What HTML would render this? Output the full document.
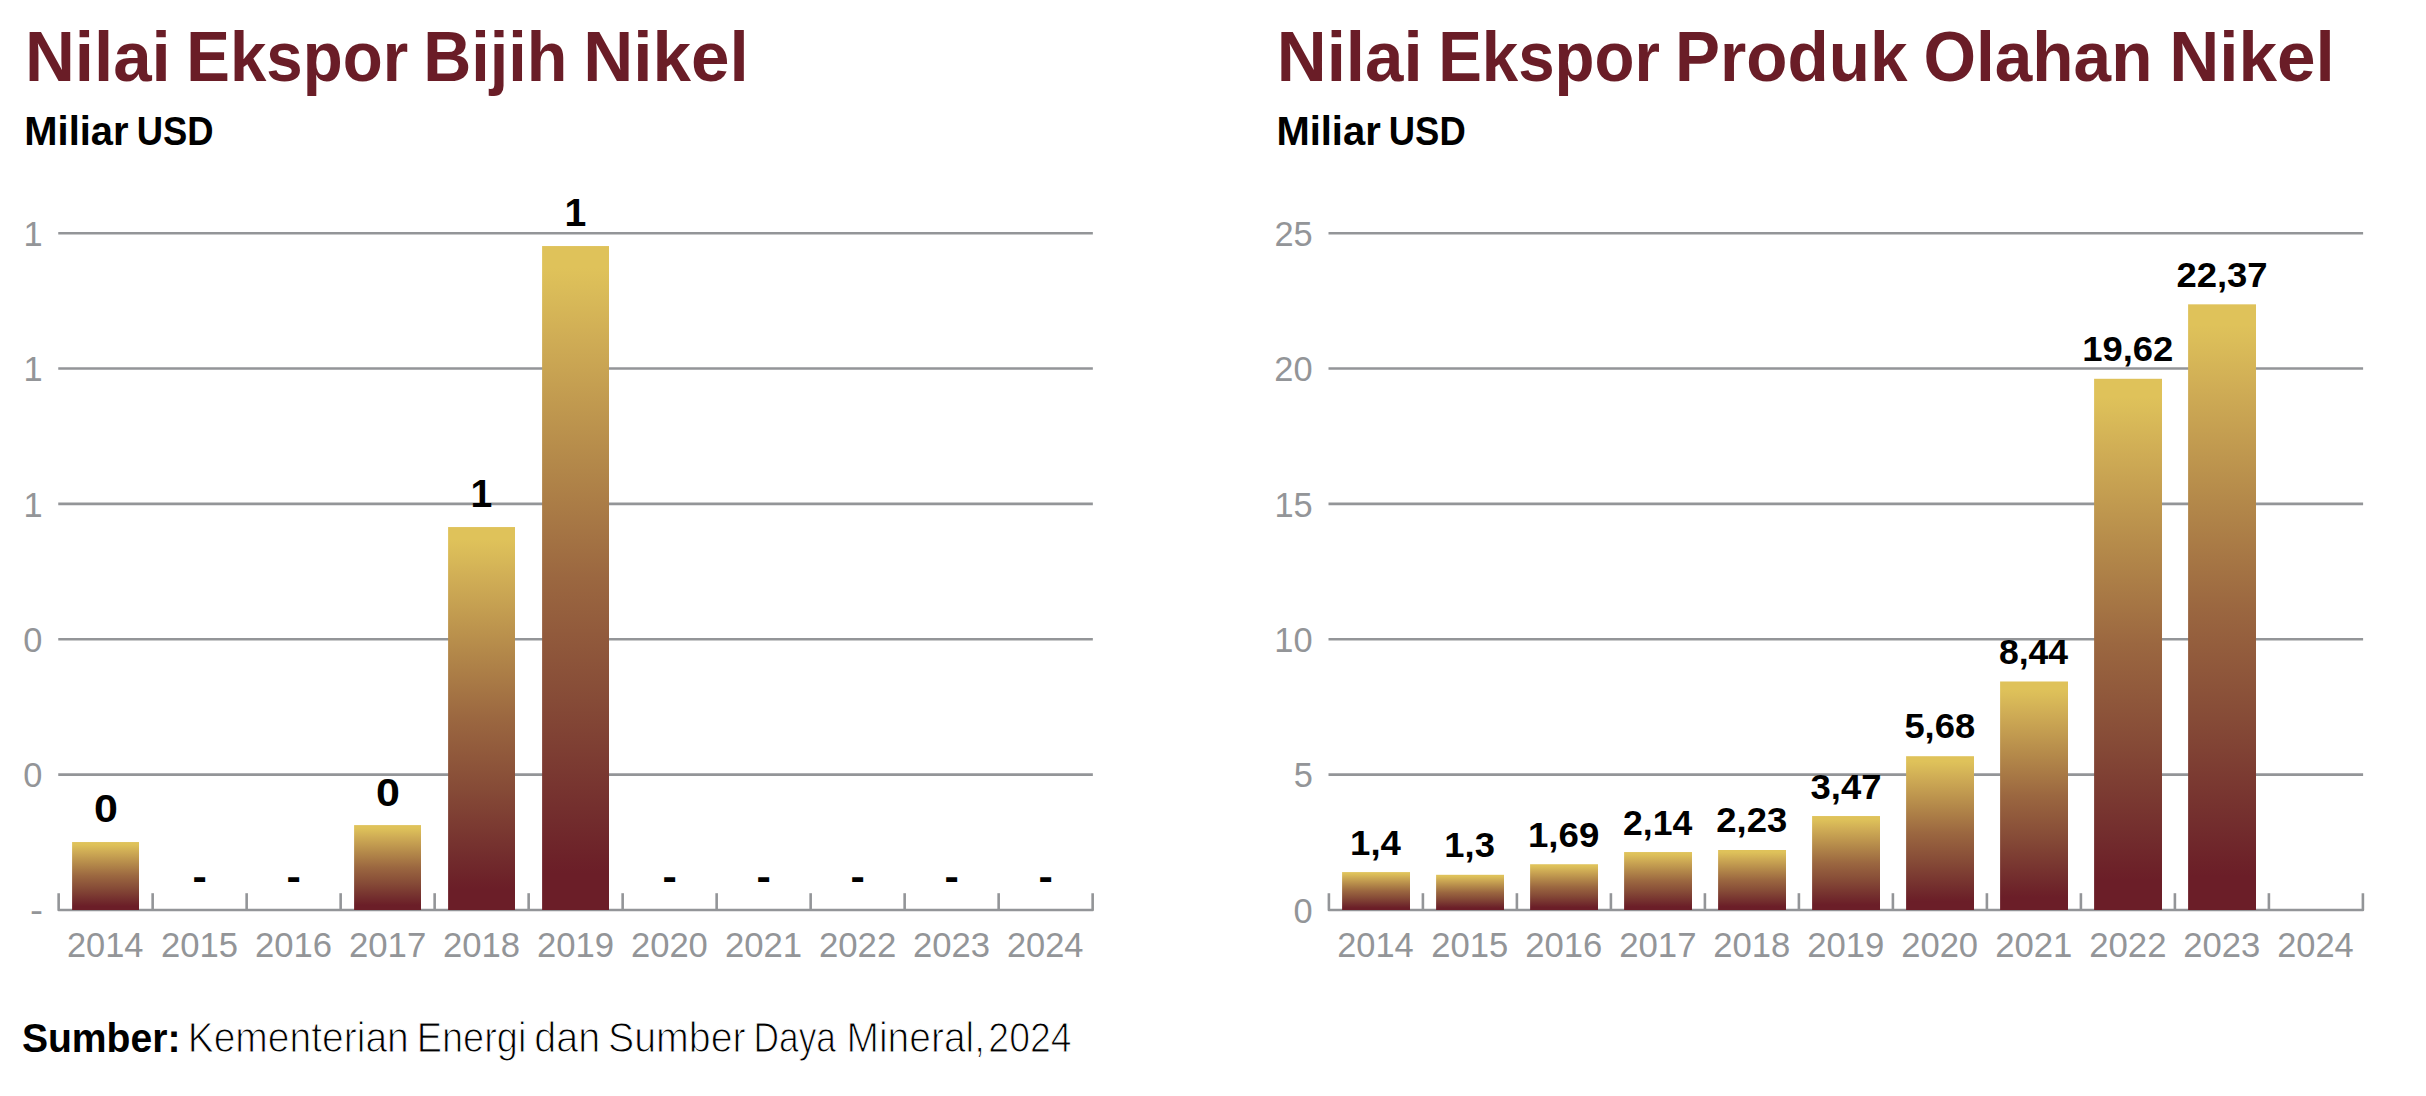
<!DOCTYPE html>
<html lang="id">
<head>
<meta charset="utf-8">
<title>Nilai Ekspor Nikel</title>
<style>
html,body{margin:0;padding:0;background:#fff;}
svg{display:block;}
text{font-family:"Liberation Sans", sans-serif;}
.lt{stroke:#fff;}
</style>
</head>
<body>
<svg width="2426" height="1096" viewBox="0 0 2426 1096" role="img" aria-label="Nilai ekspor bijih nikel dan produk olahan nikel">
<defs>
<linearGradient id="g" x1="0" y1="0" x2="0" y2="1">
<stop offset="0.033" stop-color="#DFC25A"/>
<stop offset="0.0602" stop-color="#DBBD59"/>
<stop offset="0.1415" stop-color="#CFAC55"/>
<stop offset="0.322" stop-color="#B4894A"/>
<stop offset="0.5" stop-color="#9B6740"/>
<stop offset="0.6837" stop-color="#864B37"/>
<stop offset="0.8645" stop-color="#722C2D"/>
<stop offset="0.9203" stop-color="#6D2229"/>
<stop offset="0.945" stop-color="#6B1E28"/>
</linearGradient>
</defs>
<rect width="2426" height="1096" fill="#fff"/>
<g stroke="#939598" stroke-width="2.6" fill="none">
<line x1="58.25" y1="233.20" x2="1092.85" y2="233.20"/>
<line x1="58.25" y1="368.55" x2="1092.85" y2="368.55"/>
<line x1="58.25" y1="503.90" x2="1092.85" y2="503.90"/>
<line x1="58.25" y1="639.25" x2="1092.85" y2="639.25"/>
<line x1="58.25" y1="774.60" x2="1092.85" y2="774.60"/>
<polyline points="58.65,893.20 58.65,910.00 1092.65,910.00 1092.65,893.20" stroke-linejoin="round"/>
<line x1="152.65" y1="893.20" x2="152.65" y2="910.00"/>
<line x1="246.65" y1="893.20" x2="246.65" y2="910.00"/>
<line x1="340.65" y1="893.20" x2="340.65" y2="910.00"/>
<line x1="434.65" y1="893.20" x2="434.65" y2="910.00"/>
<line x1="528.65" y1="893.20" x2="528.65" y2="910.00"/>
<line x1="622.65" y1="893.20" x2="622.65" y2="910.00"/>
<line x1="716.65" y1="893.20" x2="716.65" y2="910.00"/>
<line x1="810.65" y1="893.20" x2="810.65" y2="910.00"/>
<line x1="904.65" y1="893.20" x2="904.65" y2="910.00"/>
<line x1="998.65" y1="893.20" x2="998.65" y2="910.00"/>
</g>
<g fill="url(#g)">
<rect x="72.10" y="842.05" width="66.90" height="67.95"/>
<rect x="354.10" y="825.10" width="66.90" height="84.90"/>
<rect x="448.10" y="527.05" width="66.90" height="382.95"/>
<rect x="542.10" y="246.05" width="66.90" height="663.95"/>
</g>
<g stroke="#939598" stroke-width="2.6" fill="none">
<line x1="1328.50" y1="233.20" x2="2363.10" y2="233.20"/>
<line x1="1328.50" y1="368.55" x2="2363.10" y2="368.55"/>
<line x1="1328.50" y1="503.90" x2="2363.10" y2="503.90"/>
<line x1="1328.50" y1="639.25" x2="2363.10" y2="639.25"/>
<line x1="1328.50" y1="774.60" x2="2363.10" y2="774.60"/>
<polyline points="1328.90,893.20 1328.90,910.00 2362.90,910.00 2362.90,893.20" stroke-linejoin="round"/>
<line x1="1422.90" y1="893.20" x2="1422.90" y2="910.00"/>
<line x1="1516.90" y1="893.20" x2="1516.90" y2="910.00"/>
<line x1="1610.90" y1="893.20" x2="1610.90" y2="910.00"/>
<line x1="1704.90" y1="893.20" x2="1704.90" y2="910.00"/>
<line x1="1798.90" y1="893.20" x2="1798.90" y2="910.00"/>
<line x1="1892.90" y1="893.20" x2="1892.90" y2="910.00"/>
<line x1="1986.90" y1="893.20" x2="1986.90" y2="910.00"/>
<line x1="2080.90" y1="893.20" x2="2080.90" y2="910.00"/>
<line x1="2174.90" y1="893.20" x2="2174.90" y2="910.00"/>
<line x1="2268.90" y1="893.20" x2="2268.90" y2="910.00"/>
</g>
<g fill="url(#g)">
<rect x="1342.10" y="872.10" width="67.90" height="37.90"/>
<rect x="1436.10" y="874.80" width="67.90" height="35.20"/>
<rect x="1530.10" y="864.24" width="67.90" height="45.76"/>
<rect x="1624.10" y="852.06" width="67.90" height="57.94"/>
<rect x="1718.10" y="850.00" width="67.90" height="60.00"/>
<rect x="1812.10" y="816.05" width="67.90" height="93.95"/>
<rect x="1906.10" y="756.21" width="67.90" height="153.79"/>
<rect x="2000.10" y="681.49" width="67.90" height="228.51"/>
<rect x="2094.10" y="378.79" width="67.90" height="531.21"/>
<rect x="2188.10" y="304.33" width="67.90" height="605.67"/>
</g>
<text font-size="71.3" font-weight="bold" fill="#6A1D27"><tspan x="24.94" y="80.90" textLength="145.87" lengthAdjust="spacingAndGlyphs">Nilai</tspan> <tspan x="186.28" y="80.90" textLength="221.90" lengthAdjust="spacingAndGlyphs">Ekspor</tspan> <tspan x="423.26" y="80.90" textLength="143.99" lengthAdjust="spacingAndGlyphs">Bijih</tspan> <tspan x="583.33" y="80.90" textLength="165.48" lengthAdjust="spacingAndGlyphs">Nikel</tspan></text>
<text font-size="71.3" font-weight="bold" fill="#6A1D27"><tspan x="1276.79" y="80.90" textLength="145.87" lengthAdjust="spacingAndGlyphs">Nilai</tspan> <tspan x="1438.13" y="80.90" textLength="221.90" lengthAdjust="spacingAndGlyphs">Ekspor</tspan> <tspan x="1675.09" y="80.90" textLength="232.31" lengthAdjust="spacingAndGlyphs">Produk</tspan> <tspan x="1923.51" y="80.90" textLength="228.90" lengthAdjust="spacingAndGlyphs">Olahan</tspan> <tspan x="2169.17" y="80.90" textLength="165.60" lengthAdjust="spacingAndGlyphs">Nikel</tspan></text>
<text font-size="41.5" font-weight="bold" fill="#000"><tspan x="24.32" y="144.90" textLength="104.30" lengthAdjust="spacingAndGlyphs">Miliar</tspan> <tspan x="136.70" y="144.90" textLength="76.88" lengthAdjust="spacingAndGlyphs">USD</tspan></text>
<text font-size="41.5" font-weight="bold" fill="#000"><tspan x="1276.42" y="144.90" textLength="104.30" lengthAdjust="spacingAndGlyphs">Miliar</tspan> <tspan x="1388.80" y="144.90" textLength="76.88" lengthAdjust="spacingAndGlyphs">USD</tspan></text>
<text font-size="41.5" font-weight="bold" fill="#000"><tspan x="21.88" y="1051.80" textLength="158.61" lengthAdjust="spacingAndGlyphs">Sumber:</tspan> <tspan x="187.65" y="1052.35" textLength="221.15" lengthAdjust="spacingAndGlyphs" font-size="43.1" font-weight="normal" class="lt" stroke-width="1.1">Kementerian</tspan> <tspan x="416.74" y="1052.35" textLength="109.58" lengthAdjust="spacingAndGlyphs" font-size="43.1" font-weight="normal" class="lt" stroke-width="1.1">Energi</tspan> <tspan x="534.28" y="1052.35" textLength="65.88" lengthAdjust="spacingAndGlyphs" font-size="43.1" font-weight="normal" class="lt" stroke-width="1.1">dan</tspan> <tspan x="608.04" y="1052.35" textLength="137.60" lengthAdjust="spacingAndGlyphs" font-size="43.1" font-weight="normal" class="lt" stroke-width="1.1">Sumber</tspan> <tspan x="753.45" y="1052.35" textLength="82.53" lengthAdjust="spacingAndGlyphs" font-size="43.1" font-weight="normal" class="lt" stroke-width="1.1">Daya</tspan> <tspan x="846.55" y="1052.35" textLength="138.45" lengthAdjust="spacingAndGlyphs" font-size="43.1" font-weight="normal" class="lt" stroke-width="1.1">Mineral,</tspan> <tspan x="988.35" y="1052.35" textLength="83.18" lengthAdjust="spacingAndGlyphs" font-size="43.1" font-weight="normal" class="lt" stroke-width="1.1">2024</tspan></text>
<g font-size="34.4" font-weight="normal" fill="#939598">
<text x="66.96" y="957.00" textLength="76.54" lengthAdjust="spacingAndGlyphs">2014</text>
<text x="160.95" y="957.00" textLength="77.04" lengthAdjust="spacingAndGlyphs">2015</text>
<text x="254.95" y="957.00" textLength="77.15" lengthAdjust="spacingAndGlyphs">2016</text>
<text x="348.94" y="957.00" textLength="77.32" lengthAdjust="spacingAndGlyphs">2017</text>
<text x="442.95" y="957.00" textLength="77.11" lengthAdjust="spacingAndGlyphs">2018</text>
<text x="536.95" y="957.00" textLength="77.21" lengthAdjust="spacingAndGlyphs">2019</text>
<text x="630.95" y="957.00" textLength="76.91" lengthAdjust="spacingAndGlyphs">2020</text>
<text x="724.95" y="957.00" textLength="77.24" lengthAdjust="spacingAndGlyphs">2021</text>
<text x="818.94" y="957.00" textLength="77.32" lengthAdjust="spacingAndGlyphs">2022</text>
<text x="912.95" y="957.00" textLength="77.15" lengthAdjust="spacingAndGlyphs">2023</text>
<text x="1006.96" y="957.00" textLength="76.54" lengthAdjust="spacingAndGlyphs">2024</text>
<text x="23.60" y="245.90" textLength="19.14" lengthAdjust="spacingAndGlyphs">1</text>
<text x="23.60" y="381.25" textLength="19.14" lengthAdjust="spacingAndGlyphs">1</text>
<text x="23.60" y="516.60" textLength="19.14" lengthAdjust="spacingAndGlyphs">1</text>
<text x="23.32" y="651.95" textLength="19.14" lengthAdjust="spacingAndGlyphs">0</text>
<text x="23.32" y="787.30" textLength="19.14" lengthAdjust="spacingAndGlyphs">0</text>
<text x="29.95" y="921.90" textLength="13.01" lengthAdjust="spacingAndGlyphs">-</text>
<text x="1337.21" y="957.00" textLength="76.54" lengthAdjust="spacingAndGlyphs">2014</text>
<text x="1431.20" y="957.00" textLength="77.04" lengthAdjust="spacingAndGlyphs">2015</text>
<text x="1525.20" y="957.00" textLength="77.15" lengthAdjust="spacingAndGlyphs">2016</text>
<text x="1619.19" y="957.00" textLength="77.32" lengthAdjust="spacingAndGlyphs">2017</text>
<text x="1713.20" y="957.00" textLength="77.11" lengthAdjust="spacingAndGlyphs">2018</text>
<text x="1807.20" y="957.00" textLength="77.21" lengthAdjust="spacingAndGlyphs">2019</text>
<text x="1901.20" y="957.00" textLength="76.91" lengthAdjust="spacingAndGlyphs">2020</text>
<text x="1995.20" y="957.00" textLength="77.24" lengthAdjust="spacingAndGlyphs">2021</text>
<text x="2089.19" y="957.00" textLength="77.32" lengthAdjust="spacingAndGlyphs">2022</text>
<text x="2183.20" y="957.00" textLength="77.15" lengthAdjust="spacingAndGlyphs">2023</text>
<text x="2277.21" y="957.00" textLength="76.54" lengthAdjust="spacingAndGlyphs">2024</text>
<text x="1274.43" y="245.90" textLength="38.27" lengthAdjust="spacingAndGlyphs">25</text>
<text x="1274.29" y="381.25" textLength="38.27" lengthAdjust="spacingAndGlyphs">20</text>
<text x="1274.43" y="516.60" textLength="38.27" lengthAdjust="spacingAndGlyphs">15</text>
<text x="1274.29" y="651.95" textLength="38.27" lengthAdjust="spacingAndGlyphs">10</text>
<text x="1293.68" y="787.30" textLength="19.14" lengthAdjust="spacingAndGlyphs">5</text>
<text x="1293.57" y="922.70" textLength="19.14" lengthAdjust="spacingAndGlyphs">0</text>
</g>
<g font-size="39.5" font-weight="bold" fill="#000">
<text x="93.93" y="822.45" textLength="23.92" lengthAdjust="spacingAndGlyphs">0</text>
<text x="192.50" y="890.40" textLength="14.33" lengthAdjust="spacingAndGlyphs">-</text>
<text x="286.50" y="890.40" textLength="14.33" lengthAdjust="spacingAndGlyphs">-</text>
<text x="375.93" y="805.50" textLength="23.92" lengthAdjust="spacingAndGlyphs">0</text>
<text x="470.38" y="507.45" textLength="21.78" lengthAdjust="spacingAndGlyphs">1</text>
<text x="564.38" y="226.45" textLength="21.78" lengthAdjust="spacingAndGlyphs">1</text>
<text x="662.50" y="890.40" textLength="14.33" lengthAdjust="spacingAndGlyphs">-</text>
<text x="756.50" y="890.40" textLength="14.33" lengthAdjust="spacingAndGlyphs">-</text>
<text x="850.50" y="890.40" textLength="14.33" lengthAdjust="spacingAndGlyphs">-</text>
<text x="944.50" y="890.40" textLength="14.33" lengthAdjust="spacingAndGlyphs">-</text>
<text x="1038.50" y="890.40" textLength="14.33" lengthAdjust="spacingAndGlyphs">-</text>
</g>
<g font-size="34.7" font-weight="bold" fill="#000">
<text x="1350.07" y="854.50" textLength="50.86" lengthAdjust="spacingAndGlyphs">1,4</text>
<text x="1444.39" y="856.90" textLength="50.54" lengthAdjust="spacingAndGlyphs">1,3</text>
<text x="1527.97" y="847.00" textLength="71.30" lengthAdjust="spacingAndGlyphs">1,69</text>
<text x="1623.04" y="834.60" textLength="69.32" lengthAdjust="spacingAndGlyphs">2,14</text>
<text x="1716.32" y="832.10" textLength="70.84" lengthAdjust="spacingAndGlyphs">2,23</text>
<text x="1810.51" y="798.80" textLength="70.97" lengthAdjust="spacingAndGlyphs">3,47</text>
<text x="1904.40" y="738.40" textLength="70.76" lengthAdjust="spacingAndGlyphs">5,68</text>
<text x="1998.90" y="663.70" textLength="69.26" lengthAdjust="spacingAndGlyphs">8,44</text>
<text x="2082.28" y="360.90" textLength="91.10" lengthAdjust="spacingAndGlyphs">19,62</text>
<text x="2176.41" y="286.90" textLength="91.21" lengthAdjust="spacingAndGlyphs">22,37</text>
</g>
</svg>
</body>
</html>
